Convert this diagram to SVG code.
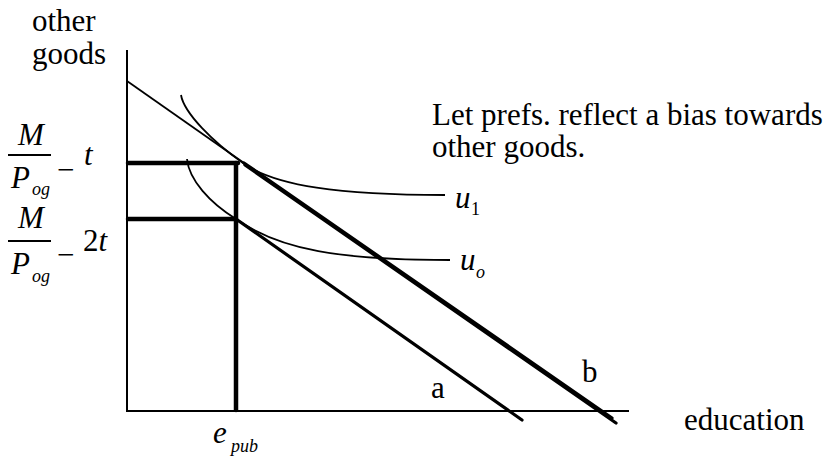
<svg xmlns="http://www.w3.org/2000/svg" width="838" height="464" viewBox="0 0 838 464">
<style>
text{font-family:"Liberation Serif","Times New Roman",serif;fill:#000}
.t{font-size:31px}
.i{font-style:italic}
.s{font-size:18px;font-style:italic}
.ax{stroke:#000;stroke-width:2;fill:none}
.thin{stroke:#000;stroke-width:1.8;fill:none}
.thick{stroke:#000;stroke-width:4.5;fill:none;stroke-linecap:round}
.bud{stroke:#000;stroke-width:3.2;fill:none;stroke-linecap:round}
</style>
<rect width="838" height="464" fill="#fff"/>
<g id="axes">
<line class="ax" x1="127" y1="50" x2="127" y2="411"/>
<line class="ax" x1="126" y1="411" x2="629" y2="411"/>
</g>
<g id="connectors">
<line class="thin" x1="127" y1="81" x2="244" y2="163"/>
<line class="bud" x1="244" y1="163" x2="612" y2="418"/>
<line class="bud" x1="245" y1="165" x2="616" y2="423"/>
<line class="bud" x1="236" y1="219" x2="522" y2="420"/>
<line class="thick" x1="128" y1="163" x2="238" y2="163"/>
<line class="thick" x1="128" y1="219" x2="236" y2="219"/>
<line class="thick" x1="236" y1="163" x2="236" y2="410"/>
</g>
<g id="u1">
<path class="thin" d="M181,95 C184,113 213,142 243,163 C275,186 340,195 445,195"/>
<text class="t i" x="455" y="208">u</text><text x="471" y="215" style="font-size:18px">1</text>
</g>
<g id="u0">
<path class="thin" d="M187,159 C189,180 210,203 236,219 C280,250 340,260 450,260"/>
<text class="t i" x="460" y="270">u</text><text class="s" x="476" y="278">o</text>
</g>
<g id="ylabel">
<text class="t" x="32" y="31">other</text>
<text class="t" x="32" y="64">goods</text>
</g>
<g id="xlabel">
<text class="t" x="684" y="430">education</text>
</g>
<g id="note">
<text class="t" x="432" y="125">Let prefs. reflect a bias towards</text>
<text class="t" x="432" y="157">other goods.</text>
</g>
<g id="label1">
<text class="t i" x="18" y="145">M</text>
<line class="ax" x1="8" y1="155" x2="51" y2="155"/>
<text class="t i" x="11" y="188">P</text><text class="s" x="32" y="195">og</text>
<text class="t" x="57" y="180">−</text>
<text class="t i" x="84" y="165">t</text>
</g>
<g id="label2">
<text class="t i" x="18" y="228">M</text>
<line class="ax" x1="8" y1="241" x2="51" y2="241"/>
<text class="t i" x="11" y="274">P</text><text class="s" x="32" y="282">og</text>
<text class="t" x="57" y="265">−</text>
<text class="t" x="83" y="251">2<tspan class="i">t</tspan></text>
</g>
<g id="epub">
<text class="t i" x="213" y="443">e</text><text class="s" x="231" y="452">pub</text>
</g>
<g id="ab">
<text class="t" x="431" y="398">a</text>
<text class="t" x="582" y="382">b</text>
</g>
</svg>
